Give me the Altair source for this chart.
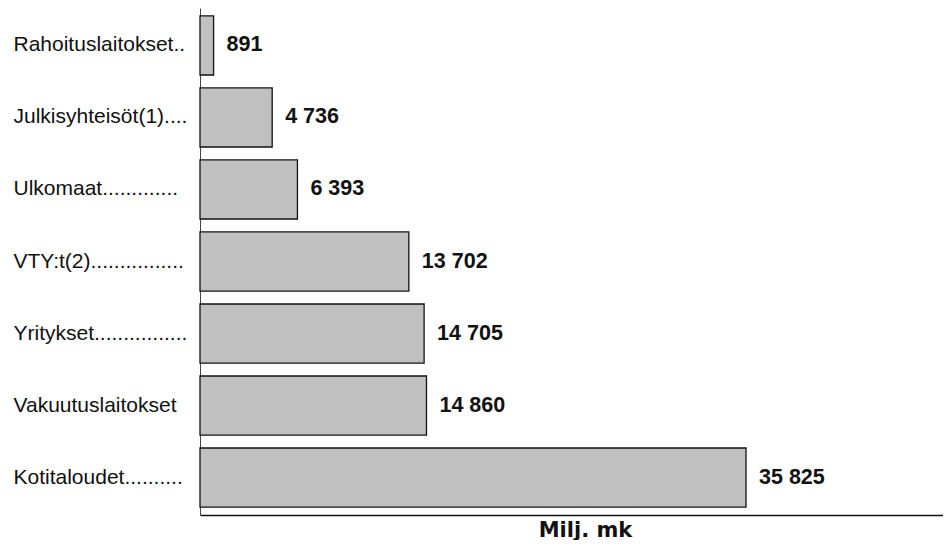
import altair as alt
import pandas as pd

categories = ["Rahoituslaitokset..", "Julkisyhteisöt(1)....", "Ulkomaat.............",
              "VTY:t(2)................", "Yritykset................", "Vakuutuslaitokset",
              "Kotitaloudet.........."]
values = [891, 4736, 6393, 13702, 14705, 14860, 35825]
labels = [f"{v:,}".replace(",", " ") for v in values]

df = pd.DataFrame({"cat": categories, "val": values, "lab": labels})

y = alt.Y("cat:N", sort=categories,
          scale=alt.Scale(paddingInner=0.18, paddingOuter=0.11),
          axis=alt.Axis(title=None, ticks=False, labelAlign="left", labelPadding=187,
                        labelFont="Liberation Sans", labelFontSize=21, labelColor="#111",
                        domainColor="#444", domainWidth=1))
x = alt.X("val:Q", scale=alt.Scale(domain=[0, 48750], nice=False),
          axis=alt.Axis(title="Milj. mk", labels=False, ticks=False, grid=False,
                        domainColor="#111", domainWidth=1.3,
                        titleFont="DejaVu Sans", titleFontSize=21, titleFontWeight="bold",
                        titleColor="#111", titleX=385, titleAlign="center",
                        titleBaseline="alphabetic", titlePadding=21))

bars = alt.Chart(df).mark_bar(color="#c0c0c0", stroke="#111", strokeWidth=1.3).encode(x=x, y=y)
text = alt.Chart(df).mark_text(align="left", dx=13, font="Liberation Sans", fontSize=21.5,
                               fontWeight="bold", color="#111").encode(
    x=alt.X("val:Q"), y=alt.Y("cat:N", sort=categories), text="lab:N")

chart = (bars + text).properties(
    width=743, height=507,
    padding={"left": 192, "top": 0, "right": 0, "bottom": 25},
    autosize=alt.AutoSizeParams(type="none"),
    background="white",
).configure_view(stroke=None)

chart.save("out.html", embed_options={"renderer": "svg", "actions": False})
